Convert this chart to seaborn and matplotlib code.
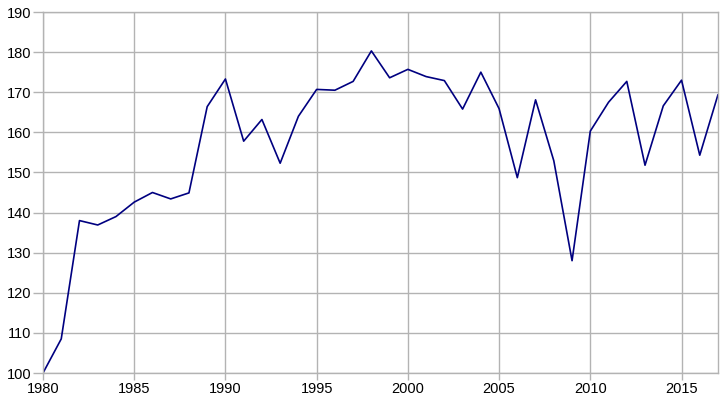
import pandas as pd
import matplotlib
matplotlib.use('Agg')
import matplotlib.pyplot as plt
import seaborn as sns

# Values
years = list(range(1980, 2018))
values = [100.0, 108.5, 138.0, 136.9, 139.0, 142.6, 145.0, 143.4, 144.9, 166.4,
          173.3, 157.8, 163.2, 152.3, 164.0, 170.7, 170.5, 172.7, 180.3, 173.6,
          175.7, 173.9, 172.9, 165.8, 175.0, 165.9, 148.7, 168.1, 152.9, 128.0,
          160.3, 167.5, 172.7, 151.8, 166.6, 173.0, 154.3, 169.4]
x_ticks = [1980, 1985, 1990, 1995, 2000, 2005, 2010, 2015]
y_ticks = list(range(100, 191, 10))

df = pd.DataFrame({'year': years, 'value': values})

sns.set_style('white')
plt.rcParams['font.family'] = ['Liberation Sans', 'DejaVu Sans']

fig = plt.figure(figsize=(7.23, 4.16), dpi=100)
ax = fig.add_axes([43 / 723, 1 - 373 / 416, (718 - 43) / 723, (373 - 12) / 416])

sns.lineplot(data=df, x='year', y='value', ax=ax, color='#000080', linewidth=1.2)

ax.set_xlim(1980, 2017)
ax.set_ylim(100, 190)
ax.set_xticks(x_ticks)
ax.set_yticks(y_ticks)
ax.grid(True, color='#b3b3b3', linewidth=1)
ax.set_axisbelow(True)
for s in ax.spines.values():
    s.set_color('#b3b3b3')
    s.set_linewidth(1)
ax.tick_params(labelsize=10.5, labelcolor='black', color='#b3b3b3', width=1)
ax.tick_params(axis='y', length=7, pad=1.5, left=True)
ax.tick_params(axis='x', length=5, pad=1.5, bottom=True)
ax.set_xlabel('')
ax.set_ylabel('')

fig.savefig('out.png', dpi=100)
